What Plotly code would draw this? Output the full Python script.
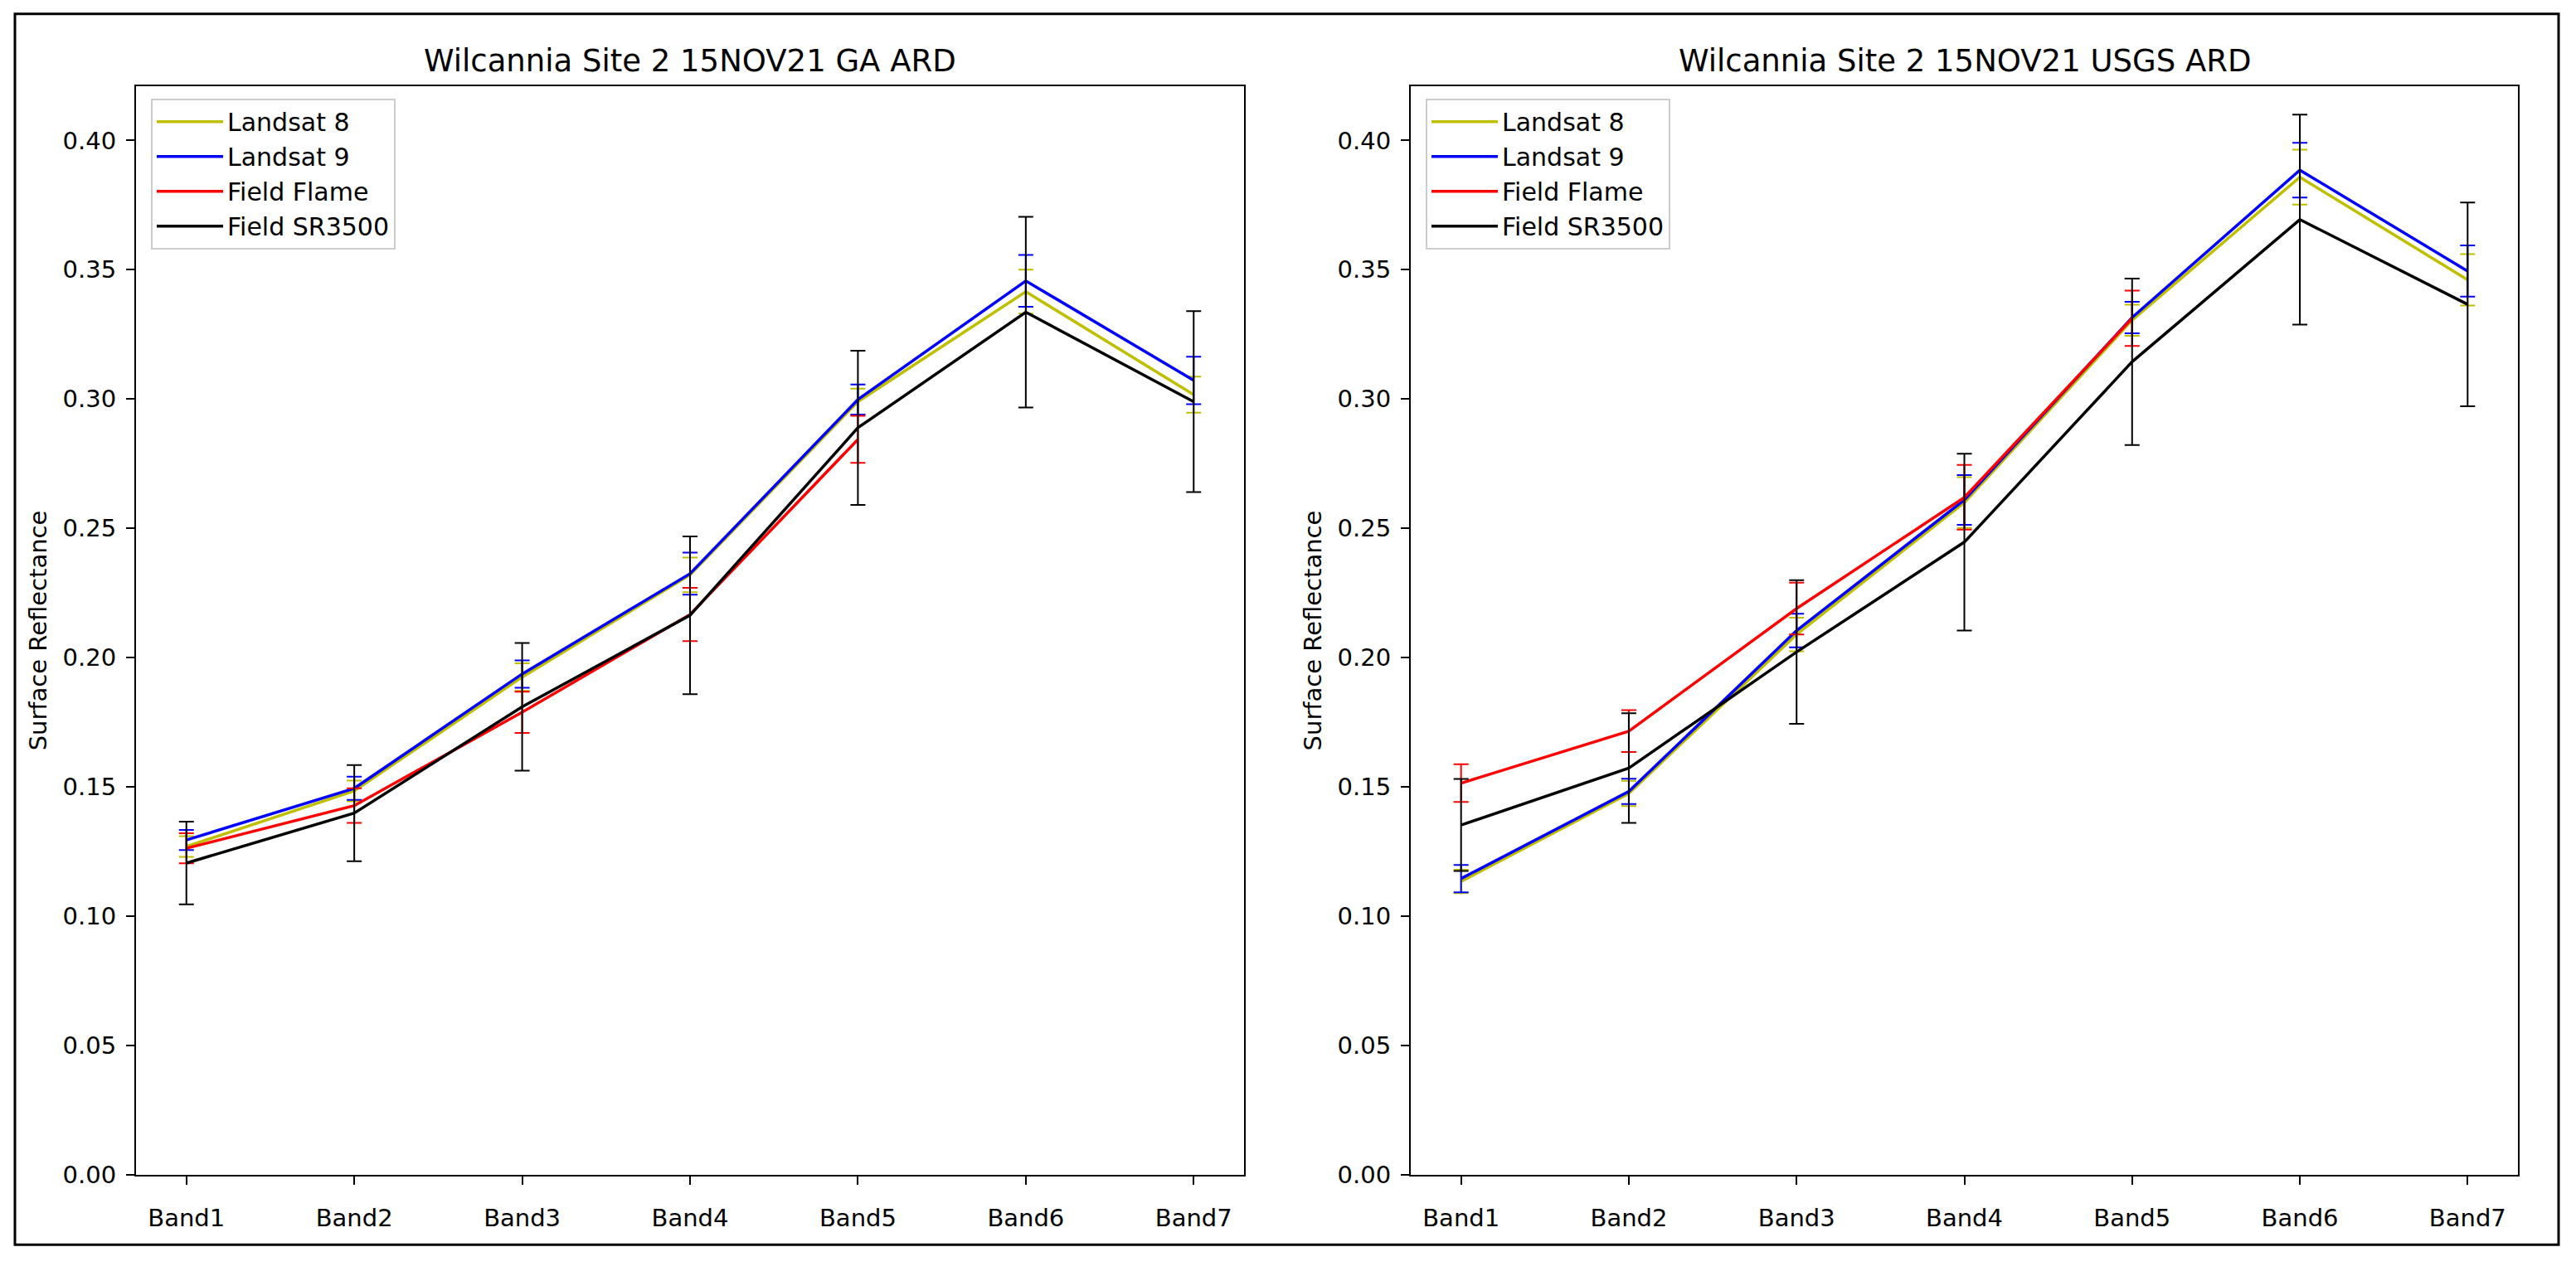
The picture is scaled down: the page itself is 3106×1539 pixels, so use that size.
import plotly.graph_objects as go

# ---------------- data ----------------
bands = ["Band1", "Band2", "Band3", "Band4", "Band5", "Band6", "Band7"]
flame_bands = bands[:5]

series_names = ["Landsat 8", "Landsat 9", "Field Flame", "Field SR3500"]
series_colors = ["#bfbf00", "#0000ff", "#ff0000", "#000000"]

# Left panel: GA ARD
ga_l8 = [0.1270, 0.1485, 0.1925, 0.2320, 0.2990, 0.3415, 0.3017]
ga_l8_err = [0.0040, 0.0040, 0.0053, 0.0067, 0.0050, 0.0085, 0.0070]
ga_l9 = [0.1295, 0.1495, 0.1937, 0.2325, 0.2998, 0.3457, 0.3072]
ga_l9_err = [0.0039, 0.0045, 0.0053, 0.0081, 0.0058, 0.0100, 0.0092]
ga_flame = [0.1263, 0.1428, 0.1789, 0.2167, 0.2844]
ga_flame_err = [0.0058, 0.0067, 0.0080, 0.0103, 0.0091]
ga_sr3500 = [0.1206, 0.1399, 0.1810, 0.2164, 0.2889, 0.3336, 0.2990]
ga_sr3500_err = [0.0160, 0.0186, 0.0247, 0.0305, 0.0298, 0.0369, 0.0350]

# Right panel: USGS ARD
usgs_l8 = [0.1135, 0.1475, 0.2090, 0.2600, 0.3305, 0.3858, 0.3461]
usgs_l8_err = [0.0045, 0.0049, 0.0065, 0.0098, 0.0060, 0.0106, 0.0099]
usgs_l9 = [0.1146, 0.1483, 0.2105, 0.2610, 0.3315, 0.3885, 0.3495]
usgs_l9_err = [0.0053, 0.0049, 0.0065, 0.0096, 0.0061, 0.0106, 0.0099]
usgs_flame = [0.1515, 0.1716, 0.2190, 0.2620, 0.3312]
usgs_flame_err = [0.0073, 0.0081, 0.0100, 0.0125, 0.0107]
usgs_sr3500 = [0.1353, 0.1573, 0.2022, 0.2447, 0.3144, 0.3694, 0.3366]
usgs_sr3500_err = [0.0178, 0.0212, 0.0278, 0.0342, 0.0322, 0.0406, 0.0394]

titles = ["Wilcannia Site 2 15NOV21 GA ARD", "Wilcannia Site 2 15NOV21 USGS ARD"]
y_label = "Surface Reflectance"
y_ticks = [0.00, 0.05, 0.10, 0.15, 0.20, 0.25, 0.30, 0.35, 0.40]

# ---------------- figure ----------------
W, H = 3106, 1539
FONT = "DejaVu Sans"
FS = 29

fig = go.Figure()

panels = [
    dict(xa="x", ya="y", legend="legend",
         data=[(bands, ga_l8, ga_l8_err), (bands, ga_l9, ga_l9_err),
               (flame_bands, ga_flame, ga_flame_err), (bands, ga_sr3500, ga_sr3500_err)]),
    dict(xa="x2", ya="y2", legend="legend2",
         data=[(bands, usgs_l8, usgs_l8_err), (bands, usgs_l9, usgs_l9_err),
               (flame_bands, usgs_flame, usgs_flame_err), (bands, usgs_sr3500, usgs_sr3500_err)]),
]

for p in panels:
    for name, color, (xs, ys, es) in zip(series_names, series_colors, p["data"]):
        fig.add_trace(go.Scatter(
            x=xs, y=ys, name=name, mode="lines",
            line=dict(color=color, width=3.5),
            error_y=dict(type="data", array=es, visible=True,
                         color=color, thickness=2, width=9),
            xaxis=p["xa"], yaxis=p["ya"], legend=p["legend"],
        ))

def px_x(v):
    return v / W

def px_y(v):
    return 1 - v / H

left_dom = [px_x(164), px_x(1500)]
right_dom = [px_x(1701), px_x(3036)]
y_dom = [px_y(1433), px_y(105)]

axis_common = dict(
    showline=True, linecolor="black", linewidth=2, mirror=True,
    ticks="outside", ticklen=10, tickwidth=2, tickcolor="black",
    showgrid=False, zeroline=False,
    tickfont=dict(family=FONT, size=FS, color="black"),
)

xcommon = dict(axis_common, type="category", range=[-0.3, 6.3],
               categoryorder="array", categoryarray=bands, ticklabelstandoff=15)
ycommon = dict(axis_common, range=[0, 0.421], tickvals=y_ticks,
               ticktext=[f"{v:.2f}" for v in y_ticks], ticklabelstandoff=6,
               title=dict(text=y_label, font=dict(family=FONT, size=FS, color="black"),
                          standoff=10))

legend_common = dict(
    font=dict(family=FONT, size=30, color="black"),
    bgcolor="rgba(255,255,255,0.8)", bordercolor="#cccccc", borderwidth=2,
    xanchor="left", yanchor="top", itemwidth=80, tracegroupgap=0,
)

fig.update_layout(
    width=W, height=H,
    margin=dict(l=0, r=0, t=0, b=0),
    paper_bgcolor="white", plot_bgcolor="white",
    font=dict(family=FONT, color="black"),
    xaxis=dict(xcommon, domain=left_dom, anchor="y"),
    yaxis=dict(ycommon, domain=y_dom, anchor="x"),
    xaxis2=dict(xcommon, domain=right_dom, anchor="y2"),
    yaxis2=dict(ycommon, domain=y_dom, anchor="x2"),
    legend=dict(legend_common, x=px_x(182), y=px_y(120)),
    legend2=dict(legend_common, x=px_x(1719), y=px_y(120)),
    showlegend=True,
)

for t, dom in zip(titles, [left_dom, right_dom]):
    fig.add_annotation(
        text=t, xref="paper", yref="paper",
        x=(dom[0] + dom[1]) / 2, y=px_y(74),
        xanchor="center", yanchor="middle", showarrow=False,
        font=dict(family=FONT, size=37, color="black"),
    )

# outer figure frame
fig.add_shape(type="rect", xref="paper", yref="paper",
              x0=px_x(18), x1=px_x(3085), y0=px_y(1518), y1=px_y(17),
              line=dict(color="black", width=3), fillcolor="rgba(0,0,0,0)")

fig.write_html("out.html")
